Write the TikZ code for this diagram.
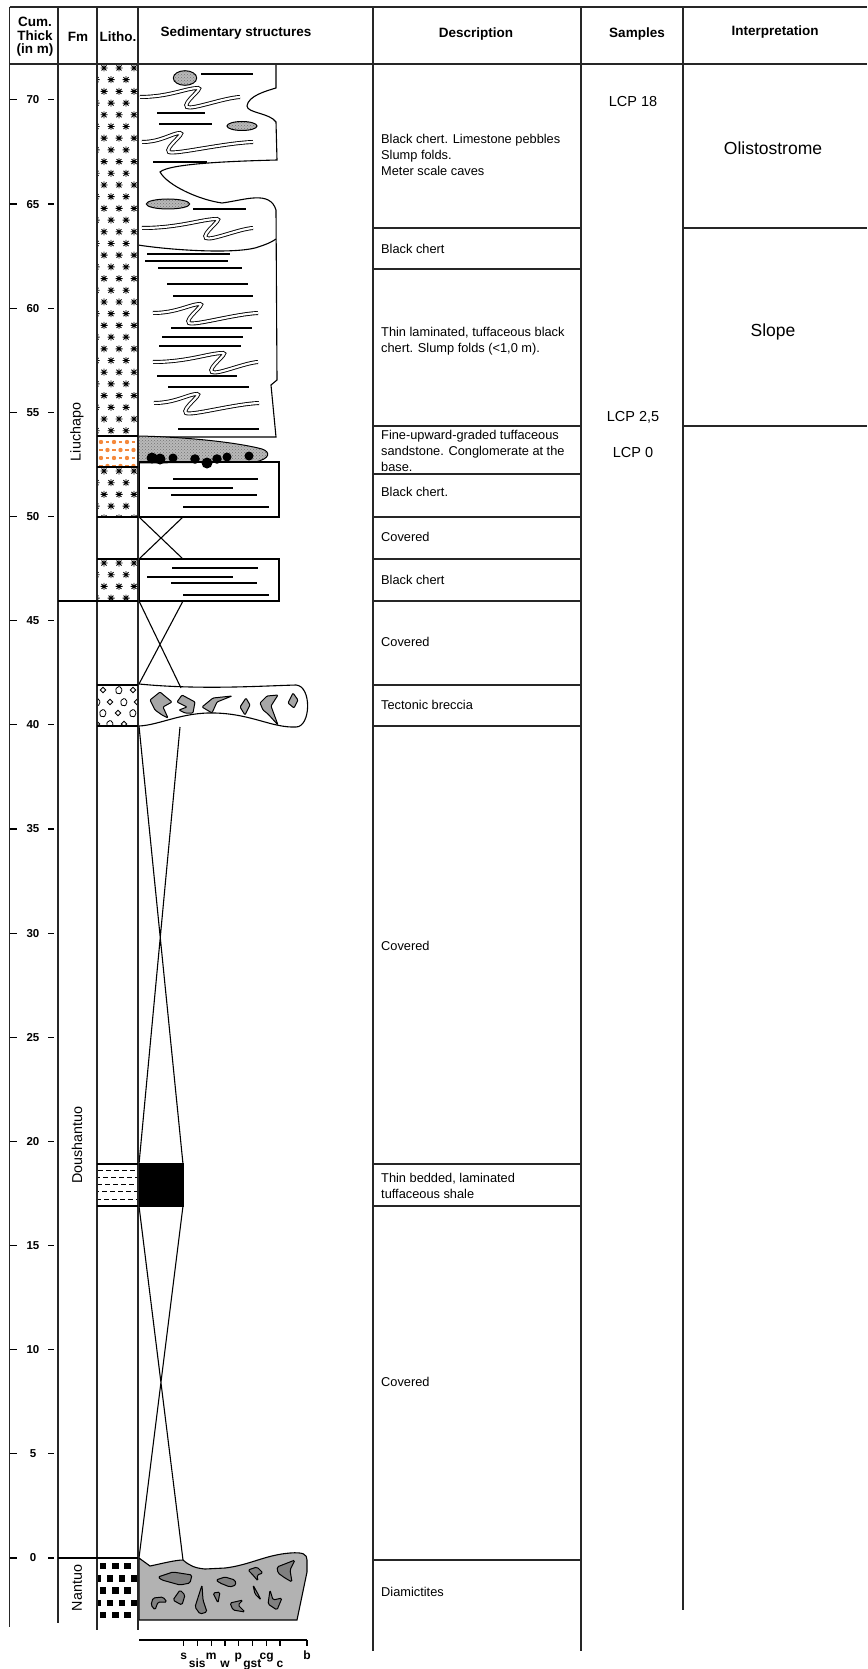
\documentclass[tikz,border=0pt]{standalone}
\usepackage{fontspec}
\setmainfont{Liberation Sans}
\usetikzlibrary{patterns}

\definecolor{tufforange}{RGB}{245,137,60}

\tikzset{
  chstar/.pic={\draw[line width=0.9pt] (-3.5,0) -- (3.5,0) (0,-3.5) -- (0,3.5) (-2.5,-2.5) -- (2.5,2.5) (-2.5,2.5) -- (2.5,-2.5);},
  diamd/.pic={\draw[line width=0.8pt] (-2.8,0) -- (0,-2.8) -- (2.8,0) -- (0,2.8) -- cycle;},
  chip/.pic={\draw[line width=0.8pt, rounded corners=0.8pt] (-3.2,-1.5) -- (0.5,-3.8) -- (3.2,-0.5) -- (1.5,3.8) -- (-2.7,3.2) -- cycle;}
}

% chert litho between two depths (pixel rows)
\newcommand{\chertlitho}[2]{%
  \begin{scope}
    \clip (97,#1) rectangle (138,#2);
    \foreach \k in {0,...,33} {
      \pgfmathsetmacro{\yy}{#1+4+11.7*\k}
      \pgfmathsetmacro{\sh}{mod(\k,2)*7}
      \foreach \xx in {89,104,119,134} {
        \pic at ({\xx+\sh},\yy) {chstar};
      }
    }
  \end{scope}}

% slump fold: left x, y, turn, end
\newcommand{\slump}[4]{%
  \draw[slump, shift={(#1,#2)}] (0,0) .. controls ({0.5*#3},0) and ({0.8*#3},-9) .. (#3,-9)
    .. controls ({#3+6},-9) and ({#3-16},6) .. ({#3-11},10)
    .. controls ({#3-6},13) and ({0.4*#3+0.6*#4},1) .. (#4,0);}

\begin{document}
\begin{tikzpicture}[x=1pt, y=-1pt,
    tabline/.style={line width=1.5pt, black!85},
    bedline/.style={line width=1.1pt},
    lam/.style={line width=1.1pt},
    slump/.style={double, double distance=2.2pt, line width=0.9pt},
    stipple/.style={draw, line width=1pt, preaction={fill=gray!55}, pattern=crosshatch dots, pattern color=black!55},
    clastb/.style={draw, line width=1pt, fill=gray!70, rounded corners=1pt},
    clastd/.style={draw, line width=1pt, fill=gray, rounded corners=1.5pt},
    head/.style={font=\bfseries\fontsize{13.5}{13.5}\selectfont, align=center, inner sep=0pt},
    desc/.style={font=\fontsize{12.8}{15.7}\selectfont, align=left, anchor=west, inner sep=0pt},
    samp/.style={font=\fontsize{14.5}{16}\selectfont, inner sep=0pt},
    interp/.style={font=\fontsize{17.5}{20}\selectfont, inner sep=0pt},
    fmlab/.style={font=\fontsize{14.3}{16}\selectfont, rotate=90, inner sep=0pt},
    depthlab/.style={font=\bfseries\fontsize{11.5}{12}\selectfont, inner sep=0pt},
    grain/.style={font=\bfseries\fontsize{12}{12}\selectfont, inner sep=0pt, anchor=base}]

  \useasboundingbox (0,0) rectangle (867,1669);

  % Litho column
  \chertlitho{64}{436}
  \chertlitho{467}{517}
  \chertlitho{559}{601}

  \begin{scope}
    \clip (97,436) rectangle (138,467);
    \foreach \k in {0,...,3} {
      \pgfmathsetmacro{\yy}{442+8*\k}
      \pgfmathsetmacro{\sh}{mod(\k,2)*6.5}
      \foreach \xx in {88,101,114,127} {
        \fill[tufforange] ({\xx+\sh},\yy) circle (2.2);
        \draw[tufforange, line width=1.1pt] ({\xx+\sh+4.5},\yy) -- ({\xx+\sh+8},\yy);
      }
    }
  \end{scope}

  \begin{scope}
    \clip (97,685) rectangle (138,726);
    \pic at (103,690) {diamd}; \pic at (119,690) {chip}; \pic at (133,690) {diamd};
    \pic at (97,702) {chip}; \pic at (110,702) {diamd}; \pic at (124,702) {chip}; \pic at (137,702) {diamd};
    \pic at (103,713) {chip}; \pic at (118,713) {diamd}; \pic at (133,713) {chip};
    \pic at (97,724) {diamd}; \pic at (110,724) {chip}; \pic at (124,724) {diamd};
  \end{scope}

  \foreach \yy/\ph in {1170/0, 1177/3, 1184/1, 1191/4, 1199/2}
    \draw[line width=0.9pt, dash pattern=on 5pt off 3pt, dash phase=\ph pt] (98,\yy) -- (137,\yy);

  \begin{scope}
    \clip (97,1558) rectangle (138,1620);
    \foreach \k in {0,...,4} {
      \pgfmathsetmacro{\yy}{1566+12.3*\k}
      \pgfmathsetmacro{\sh}{mod(\k,2)*5.5}
      \foreach \xx in {103,115.3,127.6,139.9}
        \fill ({\xx-\sh-3.2},{\yy-3.2}) rectangle ({\xx-\sh+3.2},{\yy+3.2});
    }
  \end{scope}

  % Olistostrome and slope beds
  \draw[bedline] (276,64) -- (276,88) .. controls (266,91) and (248,96) .. (247,106)
    .. controls (247,113) and (270,113) .. (276,122) -- (277,160)
    .. controls (240,161) and (170,163) .. (160,172)
    .. controls (168,186) and (200,200) .. (222,203)
    .. controls (245,200) and (270,190) .. (276,210)
    -- (277,380) -- (271,385) -- (276,437) -- (138,437);
  \draw[bedline] (138,245) .. controls (170,250) and (230,254) .. (255,248)
    .. controls (265,245) and (272,242) .. (276,239);

  \foreach \a/\b/\yy in {201/253/74, 157/205/113, 159/212/124, 153/207/162, 193/246/209,
      147/230/254, 145/228/261, 158/242/268, 167/248/284, 173/253/296, 171/252/328,
      162/243/337, 159/241/346, 157/237/376, 168/249/387, 178/259/429}
    \draw[lam] (\a,\yy) -- (\b,\yy);

  \draw[stipple] (185,78) ellipse [x radius=11.7, y radius=7.3];
  \draw[stipple] (242,126) ellipse [x radius=15, y radius=4.5];
  \draw[stipple] (168,204) ellipse [x radius=21.7, y radius=5];

  \slump{140}{97}{58}{100}
  \slump{142}{142}{38}{111}
  \slump{142}{228}{75}{111}
  \slump{153}{313}{47}{105}
  \slump{153}{362}{70}{105}
  \slump{154}{403}{43}{105}

  % Tuffaceous sandstone and chert
  \draw[stipple] (138,436) .. controls (190,437) and (240,443) .. (262,449)
    .. controls (271,452) and (270,459) .. (255,462) -- (138,463) -- cycle;
  \draw[bedline] (139,462) rectangle (279,517);
  \foreach \a/\b/\yy in {173/258/479, 148/233/488, 171/257/495, 183/269/507}
    \draw[lam] (\a,\yy) -- (\b,\yy);
  \foreach \px/\py/\pr in {152/458/5.5, 160/459/5.5, 173/458/4.5, 195/459/4.8, 207/463/5.5,
      217/459/4.8, 227/457/4.5, 249/456/4.5}
    \fill (\px,\py) circle (\pr);

  \draw[bedline] (139,517) -- (183,559) (183,517) -- (139,559);
  \draw[bedline] (139,559) rectangle (279,601);
  \foreach \a/\b/\yy in {172/258/568, 147/233/577, 171/257/583, 183/269/595}
    \draw[lam] (\a,\yy) -- (\b,\yy);

  % Breccia
  \draw[bedline] (139,601) -- (181,688) (183,601) -- (139,684);
  \draw[bedline] (139,684) .. controls (200,690) and (260,686) .. (296,685)
    .. controls (312,686) and (311,727) .. (296,727)
    .. controls (272,728) and (252,714) .. (215,713)
    .. controls (182,712) and (160,725) .. (139,726);
  \filldraw[clastb] (150,700) -- (160,692) -- (172,702) -- (163,707) -- (168,718) -- (162,715) -- (155,710) -- cycle;
  \filldraw[clastb] (177,702) -- (182,695) -- (195,702) -- (193,713) -- (185,713) -- (179,710) -- (187,707) -- cycle;
  \filldraw[clastb] (202,707) -- (213,698) -- (232,696) -- (217,702) -- (212,713) -- cycle;
  \filldraw[clastb] (240,707) -- (246,698) -- (250,705) -- (245,715) -- cycle;
  \filldraw[clastb] (260,703) -- (267,696) -- (278,695) -- (271,706) -- (278,725) -- (268,714) -- (263,710) -- cycle;
  \filldraw[clastb] (288,703) -- (293,693) -- (298,700) -- (294,708) -- cycle;

  % Covered intervals and shale
  \draw[bedline] (139,726) -- (183,1164) (180,727) -- (139,1164);
  \filldraw[bedline] (139,1164) rectangle (183,1206);
  \draw[bedline] (139,1206) -- (183,1560) (183,1206) -- (139,1558);

  % Diamictite
  \filldraw[bedline, fill=gray!60] (139,1558) -- (150,1566) .. controls (160,1564) and (175,1560) .. (183,1560)
    .. controls (190,1566) and (195,1568) .. (205,1569) -- (225,1568)
    .. controls (250,1565) and (265,1555) .. (290,1553)
    .. controls (303,1552) and (307,1554) .. (307,1560) -- (307,1572) -- (297,1620) -- (139,1620) -- cycle;
  \filldraw[clastd] (158,1577) -- (173,1572) -- (192,1575) -- (190,1583) -- (180,1585) -- (162,1580) -- cycle;
  \filldraw[clastd] (216,1580) -- (225,1577) -- (235,1580) -- (236,1585) -- (230,1587) -- (220,1583) -- cycle;
  \filldraw[clastd] (248,1570) -- (257,1567) -- (263,1573) -- (257,1575) -- (258,1581) -- (252,1574) -- cycle;
  \filldraw[clastd] (277,1567) -- (295,1560) -- (290,1570) -- (292,1582) -- (285,1578) -- (278,1573) -- cycle;
  \filldraw[clastd] (153,1598) -- (163,1597) -- (167,1602) -- (158,1602) -- (155,1610) -- (151,1605) -- cycle;
  \filldraw[clastd] (173,1600) -- (180,1590) -- (185,1595) -- (182,1605) -- (178,1603) -- cycle;
  \filldraw[clastd] (195,1607) -- (202,1585) -- (203,1600) -- (207,1612) -- (200,1614) -- cycle;
  \filldraw[clastd] (213,1593) -- (220,1592) -- (218,1603) -- cycle;
  \filldraw[clastd] (230,1603) -- (243,1600) -- (238,1605) -- (245,1612) -- (233,1610) -- cycle;
  \filldraw[clastd] (253,1585) -- (258,1594) -- (261,1600) -- (255,1594) -- cycle;
  \filldraw[clastd] (270,1590) -- (273,1600) -- (282,1598) -- (277,1610) -- (268,1604) -- cycle;

  % Grain-size scale
  \draw[bedline] (139,1640) -- (307,1640);
  \foreach \gx in {183.7,197.3,211.3,225,238.3,252.3,266.7,280,307}
    \draw[bedline] (\gx,1640) -- (\gx,1646);
  \node (gs) [grain] at (183.7,1659) {s};
  \node (gsis) [grain] at (197.3,1667) {sis};
  \node (gm) [grain] at (211.3,1659) {m};
  \node (gw) [grain] at (225,1667) {w};
  \node (gp) [grain] at (238.3,1659) {p};
  \node (ggst) [grain] at (252.3,1667) {gst};
  \node (gcg) [grain] at (266.7,1659) {cg};
  \node (gc) [grain] at (280,1667) {c};
  \node (gb) [grain] at (307,1659) {b};

  % Table lines
  \draw[tabline] (9.5,7) -- (867,7);
  \draw[tabline] (9.5,64) -- (867,64);
  \draw[tabline] (9.5,7) -- (9.5,1627);
  \draw[tabline] (58,7) -- (58,1623);
  \draw[tabline] (97,7) -- (97,1630);
  \draw[tabline] (138,7) -- (138,1630);
  \draw[tabline] (373,7) -- (373,1651);
  \draw[tabline] (581,7) -- (581,1651);
  \draw[tabline] (683,7) -- (683,1610);
  \foreach \yy in {228,269,426,474,517,559,601,685,726,1164,1206,1560}
    \draw[tabline] (373,\yy) -- (582,\yy);
  \draw[tabline] (683,228) -- (867,228) (683,426) -- (867,426);
  \foreach \yy in {436,467,517,559,685,726,1164,1206}
    \draw[bedline] (97,\yy) -- (138,\yy);
  \draw[bedline] (58,601) -- (138,601);
  \draw[bedline] (58,1558) -- (138,1558);

  % Depth scale
  \foreach \d in {0,5,...,70} {
    \pgfmathsetmacro{\yy}{1558-20.83*\d}
    \draw[bedline] (10,\yy) -- (17,\yy) (48,\yy) -- (54,\yy);
    \node (m\d) [depthlab] at (33,\yy) {\d};
  }

  % Headers
  \node (hcum) [head] at (35,37) {Cum.\\Thick\\(in m)};
  \node (hfm) [head] at (78,37) {Fm};
  \node (hlitho) [head] at (118,37) {Litho.};
  \node (hsed) [head] at (236,33) {Sedimentary structures};
  \node (hdesc) [head] at (476,34) {Description};
  \node (hsamp) [head] at (637,34) {Samples};
  \node (hinterp) [head] at (775,32) {Interpretation};

  % Formations
  \node (fliu) [fmlab] at (77,432) {Liuchapo};
  \node (fdou) [fmlab] at (77,1145) {Doushantuo};
  \node (fnan) [fmlab] at (77,1588) {Nantuo};

  % Descriptions
  \node (d1) [desc] at (381,155) {Black chert. Limestone pebbles\\Slump folds.\\Meter scale caves};
  \node (d2) [desc] at (381,249) {Black chert};
  \node (d3) [desc] at (381,341) {Thin laminated, tuffaceous black\\chert. Slump folds (<1,0 m).};
  \node (d4) [desc] at (381,451) {Fine-upward-graded tuffaceous\\sandstone. Conglomerate at the\\base.};
  \node (d5) [desc] at (381,492) {Black chert.};
  \node (d6) [desc] at (381,537) {Covered};
  \node (d7) [desc] at (381,580) {Black chert};
  \node (d8) [desc] at (381,642) {Covered};
  \node (d9) [desc] at (381,705) {Tectonic breccia};
  \node (d10) [desc] at (381,946) {Covered};
  \node (d11) [desc] at (381,1186) {Thin bedded, laminated\\tuffaceous shale};
  \node (d12) [desc] at (381,1382) {Covered};
  \node (d13) [desc] at (381,1592) {Diamictites};

  % Samples and interpretation
  \node (s18) [samp] at (633,102) {LCP 18};
  \node (s25) [samp] at (633,417) {LCP 2,5};
  \node (s0) [samp] at (633,453) {LCP 0};
  \node (iolis) [interp] at (773,148) {Olistostrome};
  \node (islope) [interp] at (773,332) {Slope};

\end{tikzpicture}
\end{document}
